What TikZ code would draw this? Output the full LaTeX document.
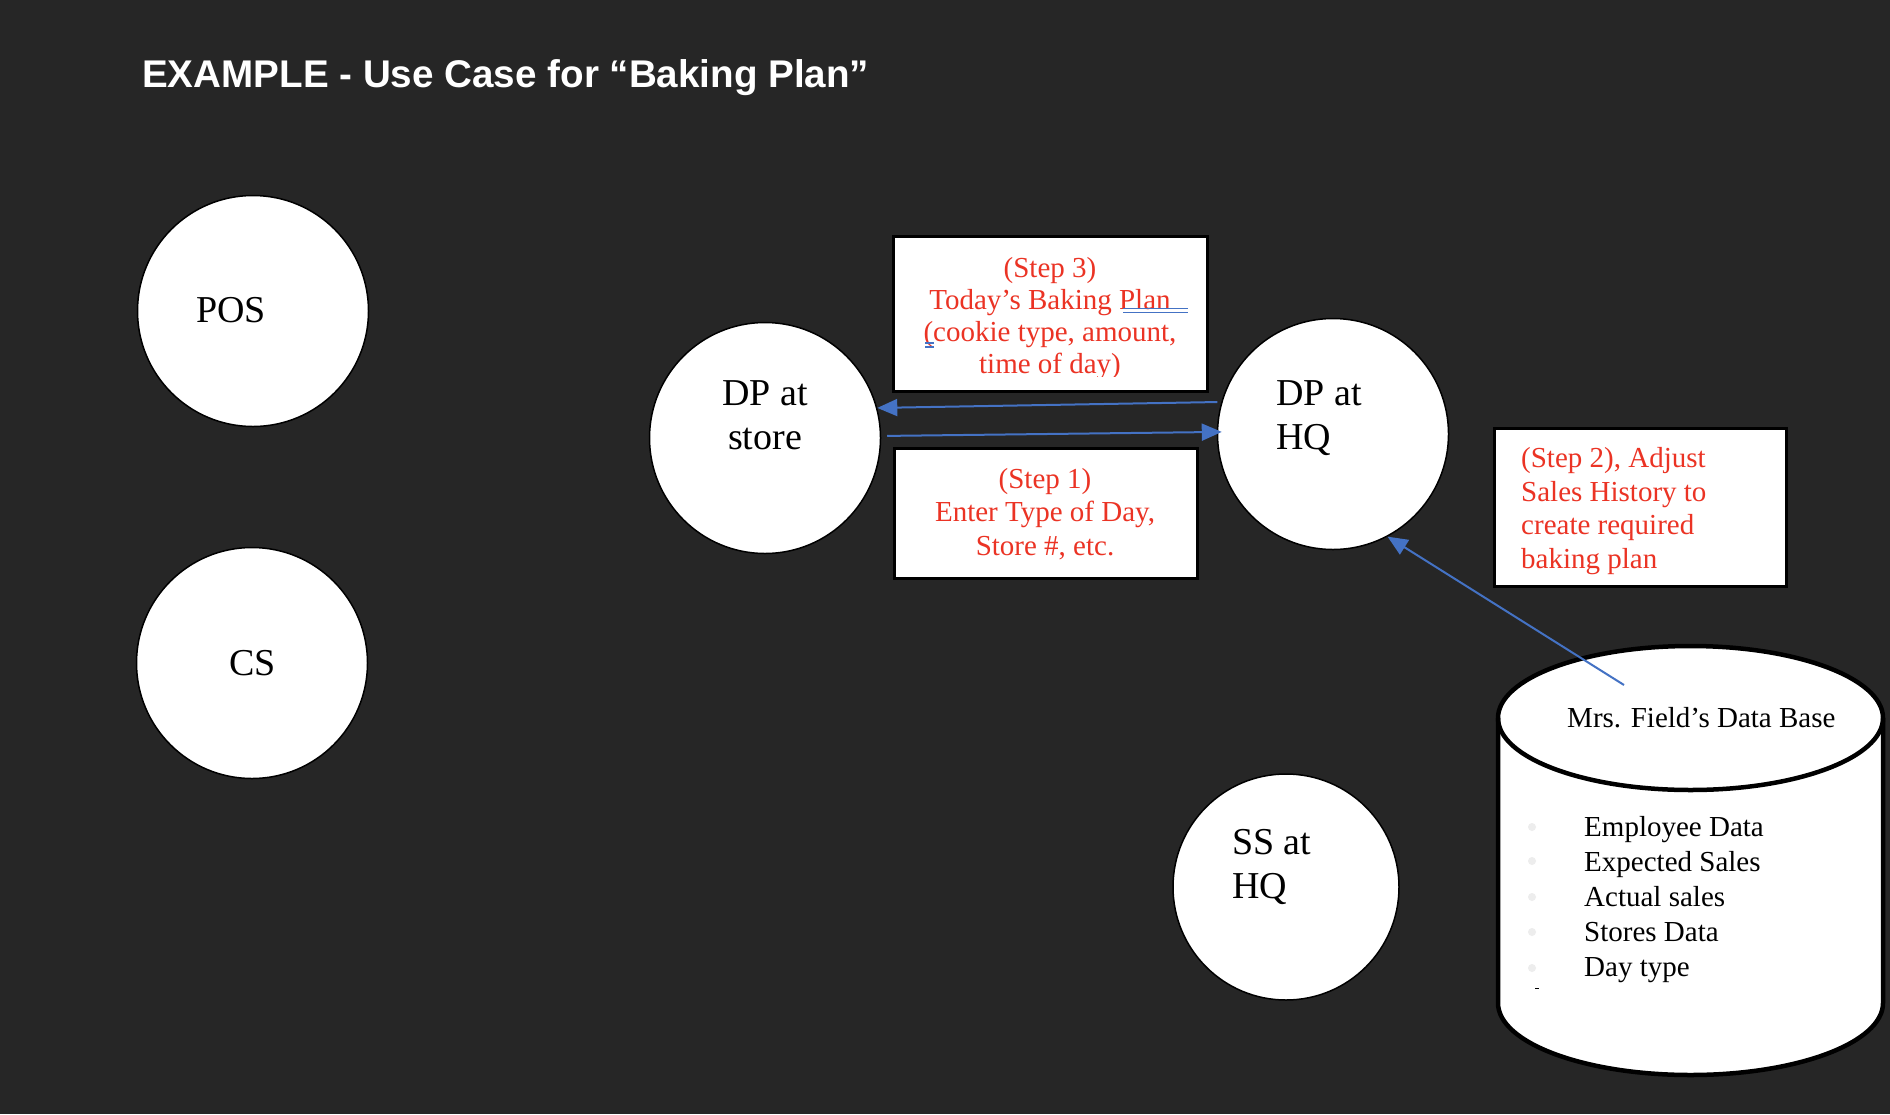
\documentclass[tikz,border=0pt]{standalone}
\usepackage{fontspec}
\setmainfont{Liberation Serif}
\newfontfamily\titlefont{Liberation Sans}
\usetikzlibrary{arrows.meta}
\definecolor{bg}{RGB}{38,38,38}
\definecolor{stepred}{RGB}{235,51,36}
\definecolor{arrblue}{RGB}{68,114,196}
\tikzset{
  circ/.style={circle, draw=black, line width=1.5pt, fill=white, minimum size=231pt, inner sep=0pt},
  ctext/.style={inner sep=0pt, font=\fontsize{38}{44}\selectfont, text=black},
  stepbox/.style={draw=black, line width=3pt, fill=white},
  steptext/.style={inner sep=0pt, font=\fontsize{29}{32}\selectfont, text=stepred},
  dbtext/.style={inner sep=0pt, font=\fontsize{29}{35}\selectfont, text=black},
  arr/.style={draw=arrblue, line width=2pt, -{Triangle[length=20pt,width=17pt]}},
  cyl/.style={draw=black, line width=4.5pt, fill=white},
  spell/.style={draw=arrblue, line width=1.2pt}
}
\begin{document}
\begin{tikzpicture}[x=1pt,y=-1pt]
\fill[bg] (0,0) rectangle (1890,1114);
\useasboundingbox (0,0) rectangle (1890,1114);

% title
\node[anchor=base west, inner sep=0pt, text=white, font=\titlefont\bfseries\fontsize{38.6}{46}\selectfont] (title) at (142,87) {EXAMPLE - Use Case for “Baking Plan”};

% circles
\node[circ] (pos) at (253,311) {};
\node[ctext, anchor=base west] (postext) at (196,322) {POS};
\node[circ] (cs) at (252,663) {};
\node[ctext, anchor=base west] (cstext) at (229,675) {CS};
\node[circ] (dpstore) at (765,438) {};
\node[ctext, anchor=north, align=center] (dpstoretext) at (765,380) {DP at\\store};
\node[circ] (dphq) at (1333,434) {};
\node[ctext, anchor=north west, align=left] (dphqtext) at (1276,380) {DP at\\HQ};
\node[circ, minimum size=226pt] (sshq) at (1286,887) {};
\node[ctext, anchor=north west, align=left] (sshqtext) at (1232,829) {SS at\\HQ};

% step boxes
\draw[stepbox] (893,236) rectangle (1207,391);
\begin{scope}
\clip (893,236) rectangle (1207,376);
\node[steptext, anchor=north, align=center] (step3) at (1050,257) {(Step 3)\\Today’s Baking Plan\\(cookie type, amount,\\time of day)};
\end{scope}
\draw[spell] (1123,308.5) -- (1188,308.5);
\draw[spell] (1123,312.5) -- (1188,312.5);
\draw[spell] (925,343) -- (934,343);
\draw[spell] (925,347) -- (934,347);

\draw[stepbox] (894,448) rectangle (1197,578);
\node[steptext, anchor=north, align=center, font=\fontsize{29}{33.5}\selectfont] (step1) at (1045,468) {(Step 1)\\Enter Type of Day,\\Store \#, etc.};

\draw[stepbox] (1494,428) rectangle (1786,586);
\node[steptext, anchor=north west, align=left, font=\fontsize{29}{33.5}\selectfont] (step2) at (1521,447.5) {(Step 2), Adjust\\Sales History to\\create required\\baking plan};

% database cylinder
\filldraw[cyl] (1498,718) -- (1498,1003) arc[start angle=180,end angle=360,x radius=192.5pt,y radius=72pt] -- (1883,718) arc[start angle=0,end angle=180,x radius=192.5pt,y radius=72pt] -- cycle;
\draw[cyl, fill=none] (1498,718) arc[start angle=180,end angle=360,x radius=192.5pt,y radius=72pt];
\node[dbtext, anchor=base west] (dbtitle) at (1567,727) {Mrs. Field’s Data Base};
\foreach \yy in {827,861,897,932,968} \fill[black!7] (1532,\yy) circle (4pt);
\draw[black, line width=1pt] (1535,988) -- (1539,988);
\node[dbtext, anchor=north west, align=left] (dblist) at (1584,816) {Employee Data\\Expected Sales\\Actual sales\\Stores Data\\Day type};
\coordinate (dbstart) at (1624,685);

% connectors
\draw[arr, shorten <=4pt] (dphq.164) -- (dpstore.15);
\draw[arr, shorten <=6pt, shorten >=-5pt] (dpstore.1) -- (dphq.179);
\draw[arr] (dbstart) -- (dphq.-62);
\end{tikzpicture}
\end{document}
